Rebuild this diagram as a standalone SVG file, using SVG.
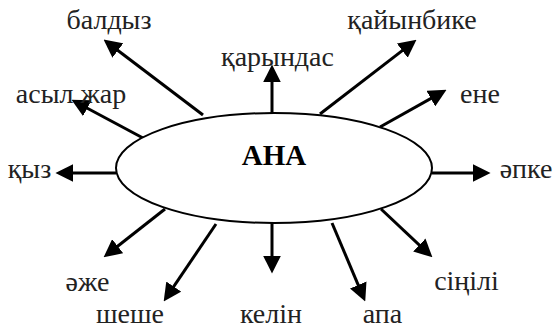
<svg xmlns="http://www.w3.org/2000/svg" width="557" height="330" viewBox="0 0 557 330" font-family="'Liberation Serif', 'DejaVu Serif', 'Times New Roman', serif">
<style>
text{font-size:28px;fill:#222;text-anchor:middle}
.b{font-weight:bold;fill:#000;font-size:29px}
.c line{stroke:#000;stroke-width:3;marker-end:url(#ah)}
</style>
<defs>
<marker id="ah" markerUnits="userSpaceOnUse" markerWidth="18" markerHeight="18" viewBox="0 0 17 17" refX="7" refY="8.5" orient="auto">
<path d="M0,0 L17,8.5 L0,17 z" fill="#000"/>
</marker>
</defs>
<rect width="557" height="330" fill="#fff"/>
<g class="c" id="connectors">
<line x1="203" y1="115" x2="112" y2="46"/>
<line x1="143" y1="138" x2="80.8" y2="104.7"/>
<line x1="272" y1="113" x2="272" y2="75"/>
<line x1="320" y1="114" x2="408.1" y2="46.1"/>
<line x1="380" y1="127" x2="437.3" y2="94.9"/>
<line x1="432" y1="173" x2="480" y2="173"/>
<line x1="116" y1="173" x2="66" y2="173"/>
<line x1="165" y1="209" x2="111.9" y2="250.8"/>
<line x1="216" y1="224" x2="169.6" y2="292.7"/>
<line x1="272" y1="223" x2="272" y2="263"/>
<line x1="332" y1="223" x2="361.1" y2="291.8"/>
<line x1="381" y1="209" x2="424.7" y2="250.1"/>
</g>
<g id="ana">
<ellipse cx="274" cy="168" rx="158" ry="55" fill="#fff" stroke="#000" stroke-width="2"/>
<text class="b" x="274" y="165">АНА</text>
</g>
<g id="baldyz"><text x="109" y="29">балдыз</text></g>
<g id="karyndas"><text x="277.5" y="66">қарындас</text></g>
<g id="kaiynbike"><text x="412" y="29">қайынбике</text></g>
<g id="asyl-zhar"><text x="71" y="103">асыл жар</text></g>
<g id="ene"><text x="480" y="103">ене</text></g>
<g id="kyz"><text x="29.5" y="178">қыз</text></g>
<g id="apke"><text x="526" y="178">әпке</text></g>
<g id="azhe"><text x="87.5" y="291">әже</text></g>
<g id="sheshe"><text x="130" y="323">шеше</text></g>
<g id="kelin"><text x="271" y="323">келін</text></g>
<g id="apa"><text x="382.5" y="323">апа</text></g>
<g id="sinili"><text x="466.5" y="290">сіңілі</text></g>
</svg>
